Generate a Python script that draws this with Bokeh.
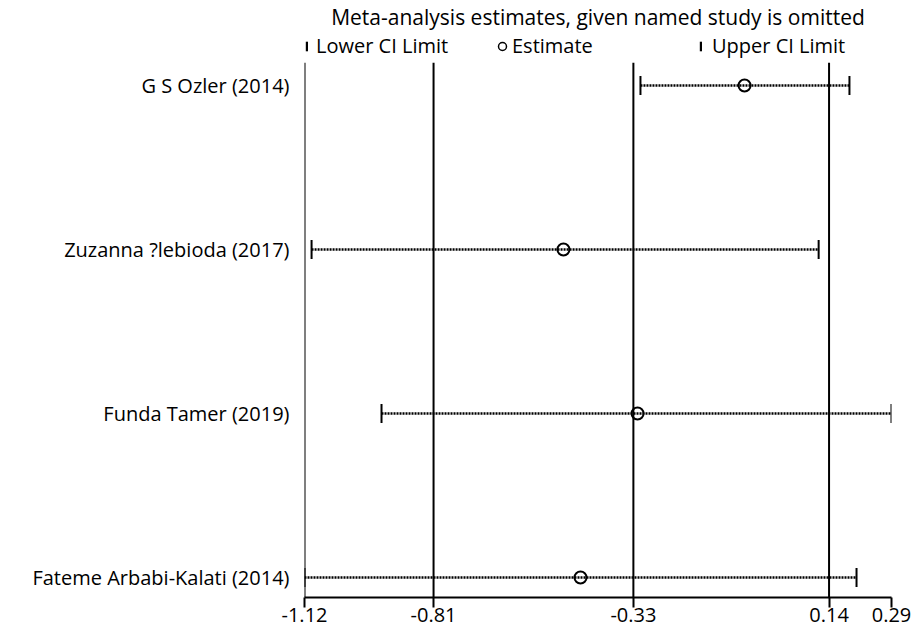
from bokeh.plotting import figure
from bokeh.layouts import column
from bokeh.models import (Range1d, FixedTicker, Span, Legend, LegendItem,
                          ColumnDataSource, PrintfTickFormatter)
from bokeh.embed import file_html
from bokeh.resources import INLINE

# ---- data ----
studies = ["G S Ozler (2014)", "Zuzanna ?lebioda (2017)",
           "Funda Tamer (2019)", "Fateme Arbabi-Kalati (2014)"]
rows = [4, 3, 2, 1]
estimate = [-0.063, -0.498, -0.320, -0.457]
lower = [-0.313, -1.103, -0.935, -1.120]
upper = [0.189, 0.115, 0.290, 0.206]
x_ticks = [-1.12, -0.81, -0.33, 0.14, 0.29]
ref_lines = [-1.12, -0.81, -0.33, 0.14]
title_text = "Meta-analysis estimates, given named study is omitted"
legend_labels = ["Lower CI Limit", "Estimate", "Upper CI Limit"]

FONT = "Open Sans"
FS = "20px"
W = 921
LEFT = 304
RIGHT = 30
HEAD_H = 62
MAIN_H = 567

src = ColumnDataSource(dict(study=studies, row=rows, est=estimate,
                            lower=lower, upper=upper))
x_range = Range1d(min(x_ticks), max(x_ticks))

# ---------------- header: title + legend ----------------
# (its y range lies above the study rows, so its glyphs only feed the legend)
head = figure(width=W, height=HEAD_H, output_backend="svg",
              toolbar_location=None, x_range=x_range,
              y_range=Range1d(len(rows) + 5, len(rows) + 6),
              min_border_left=LEFT, min_border_right=RIGHT,
              min_border_top=0, min_border_bottom=0, title=title_text)
head.axis.visible = False
head.grid.visible = False
head.outline_line_color = None
head.title.align = "center"
head.title.text_font = FONT
head.title.text_font_size = "21px"
head.title.text_font_style = "normal"
head.title.text_color = "black"
head.title.standoff = 0

lo_key = head.rect(x="lower", y="row", width=2, height=10,
                   width_units="screen", height_units="screen", source=src,
                   fill_color="black", line_color=None)
est_key = head.scatter(x="est", y="row", source=src, marker="circle",
                       size=9, fill_color=None, line_color="black",
                       line_width=1.5)
up_key = head.rect(x="upper", y="row", width=2, height=10,
                   width_units="screen", height_units="screen", source=src,
                   fill_color="black", line_color=None)

VY = 3


def mk_legend(label, rend, vx, gw, gh, standoff, vy):
    lg = Legend(items=[LegendItem(label=label, renderers=[rend])],
                location=(vx, vy), glyph_width=gw, glyph_height=gh,
                label_standoff=standoff, padding=0, margin=0,
                border_line_color=None, background_fill_alpha=0,
                label_text_font=FONT, label_text_font_size=FS,
                label_text_color="black", label_height=20)
    head.add_layout(lg, "center")


mk_legend(legend_labels[0], lo_key, 1, 3, 12, 8, VY)
mk_legend(legend_labels[1], est_key, 188, 20, 20, -1, VY)
mk_legend(legend_labels[2], up_key, 395, 3, 12, 10, VY)

# ---------------- main plot ----------------
p = figure(width=W, height=MAIN_H, output_backend="svg",
           toolbar_location=None, x_range=x_range,
           y_range=Range1d(0.878, 4.14),
           min_border_left=LEFT, min_border_right=RIGHT,
           min_border_top=0, min_border_bottom=32)
p.outline_line_color = None
p.xgrid.visible = False
p.ygrid.visible = False

xa = p.xaxis[0]
xa.ticker = FixedTicker(ticks=x_ticks)
xa.formatter = PrintfTickFormatter(format="%.2f")
xa.axis_line_width = 2
xa.axis_line_color = "black"
xa.major_tick_line_width = 2
xa.major_tick_line_color = "black"
xa.major_tick_out = 10
xa.major_tick_in = 0
xa.minor_tick_line_color = None
xa.major_label_standoff = 0
xa.major_label_text_font = FONT
xa.major_label_text_font_size = FS
xa.major_label_text_color = "black"

ya = p.yaxis[0]
ya.ticker = FixedTicker(ticks=rows)
ya.major_label_overrides = {r: s for r, s in zip(rows, studies)}
ya.axis_line_color = None
ya.major_tick_line_color = None
ya.minor_tick_line_color = None
ya.major_label_standoff = 9
ya.major_label_text_font = FONT
ya.major_label_text_font_size = FS
ya.major_label_text_color = "black"

for v in ref_lines:
    p.add_layout(Span(location=v, dimension="height", line_color="black",
                      line_width=2))

p.segment(x0="lower", y0="row", x1="upper", y1="row", source=src,
          line_color="black", line_width=2.5, line_dash="2 1")
p.rect(x="lower", y="row", width=2, height=19, width_units="screen",
       height_units="screen", source=src, fill_color="black", line_color=None)
p.rect(x="upper", y="row", width=2, height=19, width_units="screen",
       height_units="screen", source=src, fill_color="black", line_color=None)
p.scatter(x="est", y="row", source=src, marker="circle", size=12,
          fill_color=None, line_color="black", line_width=2)

layout = column(head, p, spacing=0)
open("out.html", "w").write(file_html(layout, INLINE))
